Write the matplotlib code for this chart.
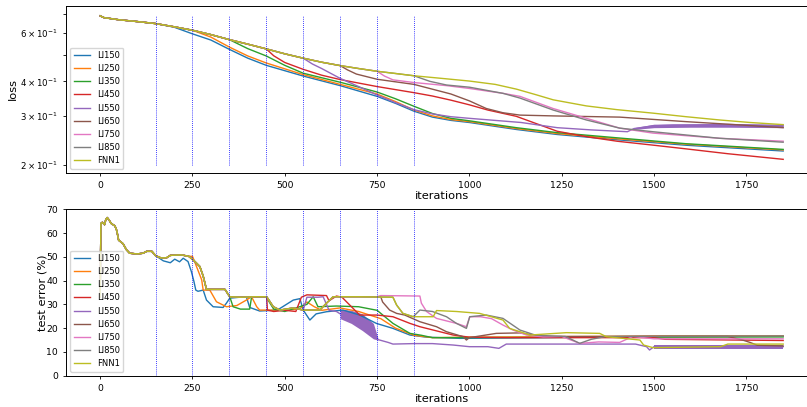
import numpy as np
import matplotlib.pyplot as plt

labels = ['LI150', 'LI250', 'LI350', 'LI450', 'LI550', 'LI650', 'LI750', 'LI850']
switch_iters = [150, 250, 350, 450, 550, 650, 750, 850]

# ---- loss (top) ----
fnn_loss_x = [0, 10, 50, 100, 150, 200, 250, 300, 350, 400, 450, 500, 550, 600, 650, 700, 750, 800,
              850, 925, 1000, 1070, 1127, 1180, 1227, 1317, 1400, 1497, 1587, 1678, 1760, 1850]
fnn_loss = [0.690, 0.680, 0.668, 0.658, 0.647, 0.630, 0.612, 0.590, 0.566, 0.545, 0.524, 0.503, 0.485,
            0.469, 0.456, 0.445, 0.435, 0.427, 0.419, 0.410, 0.401, 0.390, 0.375, 0.358, 0.343, 0.326,
            0.316, 0.307, 0.298, 0.290, 0.284, 0.279]

li150_loss_x = [150, 200, 250, 300, 350, 400, 450, 550, 650, 750, 800, 850, 900, 950, 1000, 1127, 1238, 1400, 1587, 1850]
li150_loss = [0.647, 0.628, 0.594, 0.564, 0.522, 0.485, 0.457, 0.418, 0.386, 0.353, 0.333, 0.312, 0.297,
              0.289, 0.284, 0.268, 0.257, 0.246, 0.235, 0.224]
li250_loss_x = [250, 300, 350, 400, 450, 550, 650, 750, 800, 850, 900, 950, 1000, 1127, 1238, 1400, 1587, 1850]
li250_loss = [0.612, 0.578, 0.532, 0.494, 0.466, 0.423, 0.390, 0.360, 0.338, 0.315, 0.300, 0.291, 0.286,
              0.270, 0.259, 0.248, 0.237, 0.226]
li350_loss_x = [350, 400, 450, 500, 550, 650, 750, 800, 850, 900, 950, 1000, 1127, 1238, 1400, 1587, 1850]
li350_loss = [0.566, 0.525, 0.494, 0.457, 0.428, 0.397, 0.366, 0.346, 0.325, 0.306, 0.294, 0.288, 0.272,
              0.261, 0.250, 0.238, 0.227]
li450_loss_x = [450, 470, 500, 550, 600, 650, 750, 850, 900, 950, 1000, 1050, 1127, 1238, 1320, 1400, 1500,
                1587, 1700, 1850]
li450_loss = [0.524, 0.495, 0.468, 0.442, 0.421, 0.406, 0.383, 0.364, 0.354, 0.342, 0.329, 0.315, 0.299,
              0.264, 0.252, 0.243, 0.235, 0.228, 0.219, 0.209]
li550_loss_x = [550, 575, 600, 650, 700, 750, 800, 850, 900, 950, 1000, 1140, 1238, 1330, 1428, 1446,
                1497, 1552, 1680, 1850]
li550_loss = [0.485, 0.462, 0.445, 0.410, 0.383, 0.357, 0.335, 0.316, 0.305, 0.298, 0.294, 0.284, 0.272,
              0.267, 0.263, 0.270, 0.276, 0.278, 0.278, 0.276]
li650_loss_x = [650, 670, 694, 750, 850, 950, 1000, 1046, 1091, 1137, 1227, 1407, 1587, 1700, 1850]
li650_loss = [0.456, 0.440, 0.425, 0.407, 0.390, 0.360, 0.340, 0.319, 0.308, 0.302, 0.300, 0.297, 0.286,
              0.280, 0.272]
li750_loss_x = [750, 770, 793, 850, 938, 1000, 1091, 1137, 1227, 1317, 1407, 1497, 1678, 1850]
li750_loss = [0.435, 0.418, 0.405, 0.396, 0.386, 0.377, 0.362, 0.353, 0.319, 0.294, 0.271, 0.260, 0.249, 0.243]
li850_loss_x = [850, 870, 893, 938, 1000, 1091, 1137, 1227, 1317, 1407, 1497, 1678, 1850]
li850_loss = [0.419, 0.410, 0.400, 0.388, 0.381, 0.362, 0.348, 0.315, 0.290, 0.271, 0.263, 0.249, 0.241]

# noisy band of LI550 at the end of training
li550_band_x = [1446, 1500, 1600, 1700, 1850]
li550_band_lo = [0.268, 0.272, 0.273, 0.273, 0.272]
li550_band_hi = [0.272, 0.280, 0.281, 0.282, 0.280]

# ---- test error (bottom) ----
fnn_err_x = [0, 2, 6, 12, 15, 19, 24, 30, 40, 45, 50, 62, 71, 80, 100, 116, 126, 140, 150, 165, 180, 190,
             220, 240, 252, 270, 279, 288, 300, 338, 351, 380, 420, 451, 469, 487, 523, 550, 595, 613, 631,
             700, 793, 803, 820, 848, 902, 911, 965, 1028, 1091, 1109, 1137, 1164, 1263, 1353, 1371, 1462,
             1472, 1497, 1680, 1700, 1850]
fnn_err = [33, 64, 64.5, 63.5, 65.5, 66.5, 65.5, 64, 63, 61, 57, 55.5, 53, 51.5, 51.2, 51.5, 52.3, 52.3,
           50.5, 49.5, 49.6, 50.6, 50.8, 50.2, 48.7, 45.9, 41.9, 36.3, 36.3, 36.3, 33.2, 33.0, 33.2, 33.2,
           29.0, 27.6, 28.5, 27.6, 27.6, 30.5, 33.2, 33.2, 33.0, 29.7, 26.2, 24.8, 24.8, 27.4, 27.0, 26.2,
           23.4, 19.9, 18.5, 17.1, 18.1, 17.8, 16.4, 15.0, 12.9, 11.8, 12.2, 13.3, 13.3]

li150_err_x = [150, 171, 190, 202, 215, 225, 238, 247, 254, 259, 265, 279, 288, 306, 333, 342, 351, 378,
               396, 405, 432, 480, 523, 541, 550, 568, 585, 613, 658, 703, 748, 793, 839, 884, 974, 1200,
               1530, 1850]
li150_err = [50.5, 48.3, 47.5, 49.0, 47.9, 49.4, 48.0, 43.8, 39.6, 36.0, 35.5, 36.0, 31.8, 29.0, 28.7,
             30.5, 32.6, 33.0, 33.2, 28.7, 27.2, 27.6, 31.8, 32.4, 27.6, 23.4, 26.0, 26.9, 27.6, 25.5,
             22.0, 19.9, 17.1, 16.2, 15.7, 16.0, 16.7, 16.7]
li250_err_x = [250, 261, 275, 279, 297, 315, 342, 370, 396, 410, 424, 432, 500, 540, 560, 580, 600, 650,
               700, 760, 800, 850, 900, 1000, 1530, 1850]
li250_err = [50.2, 45.9, 40.3, 36.0, 36.0, 31.1, 29.0, 29.5, 31.8, 33.2, 29.0, 27.6, 27.6, 28.0, 31.0,
             29.0, 27.5, 28.5, 27.0, 24.0, 20.0, 17.0, 16.0, 16.2, 16.7, 16.7]
li350_err_x = [351, 360, 380, 405, 410, 420, 450, 470, 500, 560, 577, 590, 640, 700, 750, 793, 839, 870,
               900, 1850]
li350_err = [33.2, 29.0, 28.0, 28.0, 33.0, 33.0, 33.0, 28.0, 27.0, 30.0, 33.2, 29.0, 29.3, 29.0, 27.5,
             22.0, 17.8, 17.0, 16.0, 16.3]
li450_err_x = [451, 453, 470, 500, 530, 545, 560, 613, 620, 640, 655, 703, 750, 793, 839, 866, 884, 956,
               1000, 1100, 1500, 1530, 1850]
li450_err = [33.2, 27.6, 27.0, 27.5, 27.0, 33.0, 34.0, 33.7, 31.5, 33.5, 33.0, 25.5, 25.5, 24.8, 22.0,
             20.6, 19.9, 17.1, 16.2, 16.0, 16.0, 15.3, 14.8]
li550_err_x = [550, 560, 590, 604, 620, 640, 650, 700, 739, 750, 780, 793, 850, 900, 956, 1000, 1050, 1080,
               1100, 1200, 1300, 1450, 1480, 1488, 1500, 1520, 1850]
li550_err = [27.6, 33.0, 33.0, 33.2, 27.5, 27.0, 26.0, 24.5, 19.0, 15.3, 14.0, 13.3, 13.5, 13.5, 12.9,
             12.2, 12.2, 11.5, 13.3, 13.3, 13.3, 13.3, 12.2, 10.8, 12.2, 12.2, 12.2]
li650_err_x = [650, 760, 765, 784, 803, 825, 866, 911, 938, 983, 992, 1000, 1073, 1137, 1200, 1400, 1700,
               1740, 1760, 1780, 1850]
li650_err = [33.2, 33.2, 31.0, 27.6, 26.2, 25.5, 22.7, 20.6, 18.5, 16.4, 15.0, 16.0, 17.8, 18.0, 16.5,
             16.5, 16.5, 15.0, 14.0, 12.8, 12.5]
li750_err_x = [750, 760, 866, 870, 884, 911, 965, 992, 1001, 1030, 1060, 1091, 1118, 1155, 1200, 1250,
               1299, 1350, 1407, 1443, 1500, 1850]
li750_err = [33.2, 33.7, 33.5, 30.5, 27.0, 24.1, 22.0, 20.6, 24.8, 24.8, 24.0, 21.3, 19.2, 17.1, 16.3,
             16.5, 13.6, 14.2, 14.0, 16.5, 15.5, 15.5]
li850_err_x = [848, 866, 900, 938, 965, 992, 1001, 1046, 1091, 1137, 1180, 1260, 1299, 1330, 1370, 1850]
li850_err = [24.8, 27.6, 27.0, 24.8, 22.0, 19.9, 24.8, 25.5, 24.1, 19.2, 17.0, 16.5, 13.6, 15.3, 16.5, 16.7]

# noisy parts of LI550
li550_band1_x = [650, 680, 710, 740, 752]
li550_band1_lo = [24.0, 22.0, 19.0, 15.5, 15.0]
li550_band1_hi = [28.0, 27.5, 26.0, 22.0, 16.0]
li550_band2_x = [1500, 1850]
li550_band2_lo = [11.2, 11.2]
li550_band2_hi = [12.8, 12.8]

loss_x = [li150_loss_x, li250_loss_x, li350_loss_x, li450_loss_x, li550_loss_x, li650_loss_x, li750_loss_x, li850_loss_x]
loss_y = [li150_loss, li250_loss, li350_loss, li450_loss, li550_loss, li650_loss, li750_loss, li850_loss]
err_x = [li150_err_x, li250_err_x, li350_err_x, li450_err_x, li550_err_x, li650_err_x, li750_err_x, li850_err_x]
err_y = [li150_err, li250_err, li350_err, li450_err, li550_err, li650_err, li750_err, li850_err]


def with_prefix(base_x, base_y, start, own_x, own_y):
    base_x = np.asarray(base_x)
    keep = base_x < start
    return (np.concatenate([base_x[keep], own_x]),
            np.concatenate([np.asarray(base_y)[keep], own_y]))


fig = plt.figure(figsize=(8.07, 4.07), dpi=100)
ax1 = fig.add_axes([0.0818, 0.5757, 0.931, 0.4096])
ax2 = fig.add_axes([0.0818, 0.0769, 0.931, 0.409])

colors = plt.rcParams['axes.prop_cycle'].by_key()['color']
lw = 1.0

for i, name in enumerate(labels):
    x, y = with_prefix(fnn_loss_x, fnn_loss, switch_iters[i], loss_x[i], loss_y[i])
    ax1.plot(x, y, color=colors[i], lw=lw, label=name)
    x, y = with_prefix(fnn_err_x, fnn_err, switch_iters[i], err_x[i], err_y[i])
    ax2.plot(x, y, color=colors[i], lw=lw, label=name)

ax1.fill_between(li550_band_x, li550_band_lo, li550_band_hi, color=colors[4], lw=0)
ax2.fill_between(li550_band1_x, li550_band1_lo, li550_band1_hi, color=colors[4], lw=0)
ax2.fill_between(li550_band2_x, li550_band2_lo, li550_band2_hi, color=colors[4], lw=0)

ax1.plot(fnn_loss_x, fnn_loss, color=colors[8], lw=lw, label='FNN1')
ax2.plot(fnn_err_x, fnn_err, color=colors[8], lw=lw, label='FNN1')

ax1.vlines(switch_iters, 0.2, 0.69, colors='b', linestyles=(0, (1, 1.5)), lw=0.6)
ax2.vlines(switch_iters, 0, 69.5, colors='b', linestyles=(0, (1, 1.5)), lw=0.6)

ax1.set_yscale('log')
ax1.set_ylim(0.187, 0.749)
ax2.set_ylim(0, 70)
for ax in (ax1, ax2):
    ax.set_xlim(-92.5, 1942.5)
    ax.set_xticks([0, 250, 500, 750, 1000, 1250, 1500, 1750])
    ax.tick_params(which='both', labelsize=6.7, length=2.4, width=0.6)
    ax.set_xlabel('iterations', fontsize=8.2, labelpad=0.5)
    ax.legend(loc='lower left', fontsize=6, borderaxespad=0.5)
    for s in ax.spines.values():
        s.set_linewidth(0.7)
ax1.tick_params(axis='y', which='both', labelsize=6.2)

ax1.set_ylabel('loss', fontsize=8.2)
ax2.set_ylabel('test error (%)', fontsize=8.2)
ax1.yaxis.set_label_coords(-0.064, 0.5)
ax2.yaxis.set_label_coords(-0.025, 0.5)

fig.savefig('out.png', dpi=100)
